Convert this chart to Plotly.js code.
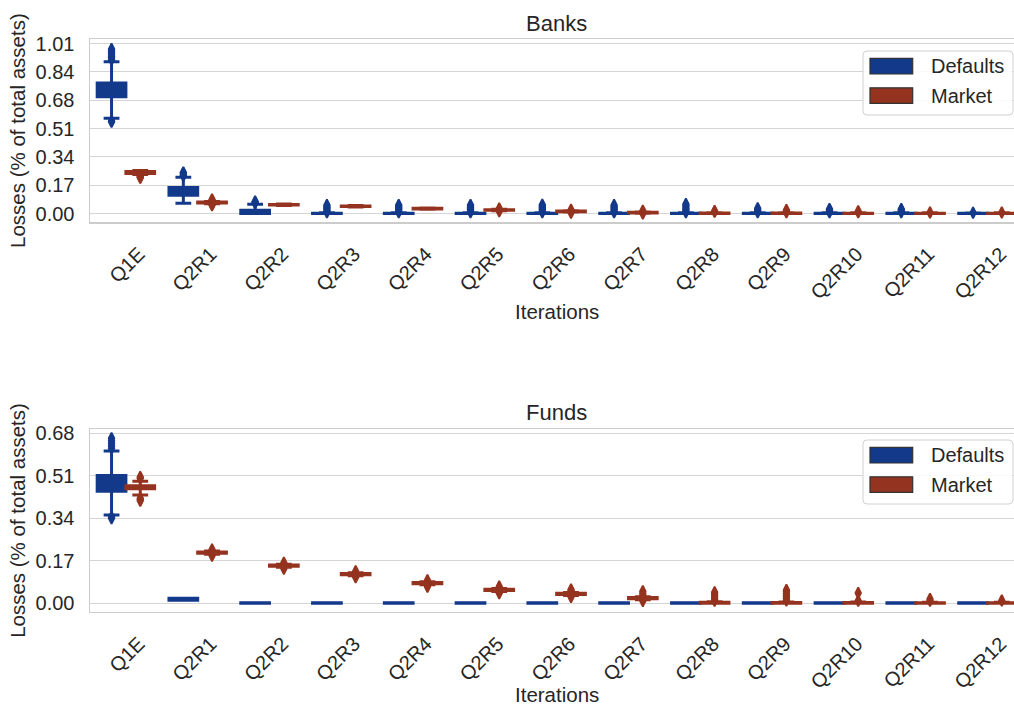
<!DOCTYPE html>
<html><head><meta charset="utf-8">
<script src="https://cdn.plot.ly/plotly-3.0.1.min.js"></script>
<style>html,body{margin:0;padding:0;background:#fff;overflow:hidden}#chart{width:1014px;height:707px}</style>
</head><body><div id="chart"></div>
<script>
// ---------------- DATA ----------------
const categories = ['Q1E','Q2R1','Q2R2','Q2R3','Q2R4','Q2R5','Q2R6','Q2R7','Q2R8','Q2R9','Q2R10','Q2R11','Q2R12'];
const seriesNames = ['Defaults','Market'];
const panelTitles = ['Banks','Funds'];
const xTitle = 'Iterations';
const yTitle = 'Losses (% of total assets)';
const bankTickVals = [0, 0.168, 0.337, 0.505, 0.673, 0.842, 1.01];
const bankTickText = ['0.00','0.17','0.34','0.51','0.68','0.84','1.01'];
const fundTickVals = [0, 0.17, 0.34, 0.51, 0.68];
const fundTickText = ['0.00','0.17','0.34','0.51','0.68'];

// Banks - Defaults
const banksDefQ1  = [0.693, 0.108, 0.000, 0, 0, 0, 0, 0, 0, 0, 0, 0, 0];
const banksDefMed = [0.735, 0.130, 0.008, 0, 0, 0, 0, 0, 0, 0, 0, 0, 0];
const banksDefQ3  = [0.775, 0.155, 0.020, 0.002, 0.002, 0.002, 0.002, 0.002, 0.002, 0.002, 0.002, 0.002, 0.002];
const banksDefLo  = [0.566, 0.061, 0.000, 0, 0, 0, 0, 0, 0, 0, 0, 0, 0];
const banksDefHi  = [0.902, 0.215, 0.055, 0.004, 0.004, 0.004, 0.004, 0.004, 0.004, 0.004, 0.004, 0.004, 0.003];
const banksDefOut = [
  [0.915, 0.925, 0.935, 0.945, 0.955, 0.965, 0.977, 0.550, 0.545],
  [0.225, 0.232, 0.240, 0.243],
  [0.062, 0.067, 0.071],
  [0.008, 0.015, 0.022, 0.029, 0.036, 0.043, 0.050],
  [0.008, 0.015, 0.022, 0.029, 0.036, 0.043, 0.051],
  [0.008, 0.015, 0.022, 0.029, 0.036, 0.044, 0.051],
  [0.008, 0.015, 0.022, 0.030, 0.037, 0.044, 0.052],
  [0.008, 0.015, 0.022, 0.029, 0.036, 0.043, 0.050],
  [0.008, 0.015, 0.022, 0.030, 0.038, 0.047, 0.057],
  [0.008, 0.015, 0.022, 0.031],
  [0.008, 0.015, 0.021, 0.027],
  [0.008, 0.015, 0.021, 0.027],
  [0.005]
];

// Banks - Market
const banksMktQ1  = [0.238, 0.062, 0.050, 0.041, 0.027, 0.019, 0.011, 0.003, 0.000, 0.000, 0.000, 0.000, 0.000];
const banksMktMed = [0.244, 0.065, 0.052, 0.043, 0.029, 0.021, 0.013, 0.005, 0.001, 0.001, 0.001, 0.001, 0.001];
const banksMktQ3  = [0.250, 0.068, 0.054, 0.045, 0.031, 0.023, 0.015, 0.007, 0.003, 0.003, 0.002, 0.002, 0.002];
const banksMktLo  = [0.232, 0.058, 0.048, 0.039, 0.025, 0.017, 0.009, 0.001, 0.000, 0.000, 0.000, 0.000, 0.000];
const banksMktHi  = [0.255, 0.072, 0.056, 0.047, 0.033, 0.025, 0.017, 0.009, 0.005, 0.005, 0.004, 0.004, 0.004];
const banksMktOut = [
  [0.228, 0.224, 0.220, 0.216, 0.212],
  [0.078, 0.083, 0.053, 0.049],
  [], [], [],
  [0.030, 0.014],
  [0.023, 0.005],
  [0.017, 0.000],
  [0.015, 0.010],
  [0.021, 0.014, 0.008],
  [0.013, 0.008],
  [0.006],
  [0.006]
];

// Funds - Defaults
const fundsDefQ1  = [0.448, 0.012, 0, 0, 0, 0, 0, 0, 0, 0, 0, 0, 0];
const fundsDefMed = [0.480, 0.016, 0, 0, 0, 0, 0, 0, 0, 0, 0, 0, 0];
const fundsDefQ3  = [0.511, 0.020, 0.002, 0.002, 0.002, 0.002, 0.002, 0.002, 0.002, 0.002, 0.002, 0.002, 0.002];
const fundsDefLo  = [0.353, 0.012, 0, 0, 0, 0, 0, 0, 0, 0, 0, 0, 0];
const fundsDefHi  = [0.609, 0.020, 0.002, 0.002, 0.002, 0.002, 0.002, 0.002, 0.002, 0.002, 0.002, 0.002, 0.002];
const fundsDefOut = [
  [0.620, 0.630, 0.640, 0.650, 0.660, 0.345, 0.340],
  [], [], [], [], [], [], [], [], [], [], [], []
];

// Funds - Market
const fundsMktQ1  = [0.458, 0.200, 0.148, 0.114, 0.078, 0.051, 0.035, 0.018, 0.000, 0.000, 0.000, 0.000, 0.000];
const fundsMktMed = [0.464, 0.202, 0.150, 0.116, 0.080, 0.053, 0.037, 0.020, 0.002, 0.001, 0.001, 0.001, 0.001];
const fundsMktQ3  = [0.470, 0.205, 0.153, 0.119, 0.083, 0.056, 0.040, 0.023, 0.004, 0.003, 0.003, 0.002, 0.002];
const fundsMktLo  = [0.433, 0.196, 0.144, 0.110, 0.074, 0.047, 0.031, 0.014, 0.000, 0.000, 0.000, 0.000, 0.000];
const fundsMktHi  = [0.488, 0.209, 0.156, 0.122, 0.086, 0.059, 0.043, 0.026, 0.006, 0.005, 0.005, 0.004, 0.004];
const fundsMktOut = [
  [0.505, 0.500, 0.420, 0.415, 0.410],
  [0.215, 0.190],
  [0.162, 0.138],
  [0.128, 0.104],
  [0.092, 0.066],
  [0.067, 0.040],
  [0.055, 0.050, 0.025],
  [0.048, 0.040, 0.033, 0.009],
  [0.044, 0.037, 0.030, 0.022, 0.015, 0.010],
  [0.053, 0.046, 0.039, 0.032, 0.025, 0.018, 0.011],
  [0.041, 0.010],
  [0.017, 0.010],
  [0.011]
];

// ---------------- STYLE ----------------
const W = 1014, H = 707;
const BLUE = '#13398b', RED = '#94331f';
const TEXT = '#262626', GRID = '#d5d5d5', SPINE = '#cccccc';
const FONT = 'Liberation Sans, Arial, sans-serif';
const colors = [BLUE, RED];
const offsets = [-0.2, 0.2];
const X = px => px / W;
const Y = py => 1 - py / H;

function boxTrace(q1, med, q3, lo, hi, k, xa, ya) {
  const c = colors[k];
  return {
    type: 'box', name: seriesNames[k],
    x: categories.map((_, i) => i + offsets[k]),
    q1: q1, median: med, q3: q3, lowerfence: lo, upperfence: hi,
    width: 0.4, whiskerwidth: 0.55, boxpoints: false,
    fillcolor: c, line: { color: c, width: 3 },
    xaxis: xa, yaxis: ya, showlegend: false, hoverinfo: 'skip'
  };
}
function outTrace(outs, k, xa, ya) {
  const xs = [], ys = [];
  outs.forEach((arr, i) => arr.forEach(v => { xs.push(i + offsets[k]); ys.push(v); }));
  return {
    type: 'scatter', mode: 'markers', x: xs, y: ys,
    marker: { symbol: 'diamond-tall', size: 8, color: colors[k], line: { width: 1.8, color: colors[k] } },
    xaxis: xa, yaxis: ya, showlegend: false, hoverinfo: 'skip', cliponaxis: false
  };
}

const data = [
  boxTrace(banksDefQ1, banksDefMed, banksDefQ3, banksDefLo, banksDefHi, 0, 'x', 'y'),
  boxTrace(banksMktQ1, banksMktMed, banksMktQ3, banksMktLo, banksMktHi, 1, 'x', 'y'),
  outTrace(banksDefOut, 0, 'x', 'y'),
  outTrace(banksMktOut, 1, 'x', 'y'),
  boxTrace(fundsDefQ1, fundsDefMed, fundsDefQ3, fundsDefLo, fundsDefHi, 0, 'x2', 'y2'),
  boxTrace(fundsMktQ1, fundsMktMed, fundsMktQ3, fundsMktLo, fundsMktHi, 1, 'x2', 'y2'),
  outTrace(fundsDefOut, 0, 'x2', 'y2'),
  outTrace(fundsMktOut, 1, 'x2', 'y2')
];

function xAxis(anchor) {
  return {
    domain: [X(90), 1], range: [-0.5, 12.37], anchor: anchor,
    tickvals: categories.map((_, i) => i), ticktext: categories,
    tickangle: -45, tickfont: { family: FONT, size: 20, color: TEXT },
    ticks: '', ticklabelstandoff: 11, ticklabelshift: 13,
    showgrid: false, zeroline: false,
    showline: true, mirror: true, linecolor: SPINE, linewidth: 1.5,
    fixedrange: true
  };
}
function yAxis(anchor, dom, rng, tv, tt) {
  return {
    domain: dom, range: rng, anchor: anchor,
    tickvals: tv, ticktext: tt,
    tickfont: { family: FONT, size: 20, color: TEXT },
    ticks: '', ticklabelstandoff: 10,
    showgrid: true, gridcolor: GRID, gridwidth: 1.3, zeroline: false,
    showline: true, linecolor: SPINE, linewidth: 1.5,
    title: { text: yTitle, font: { family: FONT, size: 20.5, color: TEXT }, standoff: 4 },
    fixedrange: true
  };
}

function roundRect(x0, y0, x1, y1, r) {
  const a = X(x0), b = X(x1), rx = r / W, ry = r / H;
  const t = Y(y0), u = Y(y1);
  return `M${a + rx},${t} L${b - rx},${t} Q${b},${t} ${b},${t - ry} L${b},${u + ry} Q${b},${u} ${b - rx},${u} L${a + rx},${u} Q${a},${u} ${a},${u + ry} L${a},${t - ry} Q${a},${t} ${a + rx},${t} Z`;
}

const shapes = [], annotations = [];
const xTitleY = [311, 694];
[0, 389].forEach((dy, p) => {
  shapes.push({ type: 'path', xref: 'paper', yref: 'paper', path: roundRect(863, 51 + dy, 1013, 115 + dy, 4),
    fillcolor: 'rgba(255,255,255,0.85)', line: { color: '#d0d0d0', width: 1 } });
  seriesNames.forEach((nm, k) => {
    const yc = 66.2 + dy + k * 29.4;
    shapes.push({ type: 'rect', xref: 'paper', yref: 'paper', x0: X(870), x1: X(912.7), y0: Y(yc - 7.8), y1: Y(yc + 7.8),
      fillcolor: colors[k], line: { color: '#333333', width: 1.2 } });
    annotations.push({ xref: 'paper', yref: 'paper', x: X(929), y: Y(yc), xanchor: 'left', yanchor: 'middle',
      text: nm, showarrow: false, font: { family: FONT, size: 20, color: TEXT } });
  });
  // panel title
  annotations.push({ xref: p ? 'x2' : 'x', yref: 'paper', x: 6, y: Y(23 + dy), yanchor: 'middle', xanchor: 'center',
    text: panelTitles[p], showarrow: false, font: { family: FONT, size: 22, color: TEXT } });
  // x-axis title
  annotations.push({ xref: p ? 'x2' : 'x', yref: 'paper', x: 6, y: Y(xTitleY[p]), yanchor: 'middle', xanchor: 'center',
    text: xTitle, showarrow: false, font: { family: FONT, size: 20.5, color: TEXT } });
});

const layout = {
  width: W, height: H,
  margin: { l: 0, r: 0, t: 0, b: 0 },
  paper_bgcolor: '#ffffff', plot_bgcolor: '#ffffff',
  showlegend: false,
  font: { family: FONT, color: TEXT },
  xaxis: xAxis('y'),
  yaxis: yAxis('x', [Y(222), Y(39.3)], [-0.0505, 1.035], bankTickVals, bankTickText),
  xaxis2: xAxis('y2'),
  yaxis2: yAxis('x2', [Y(611.7), Y(429.3)], [-0.034, 0.696], fundTickVals, fundTickText),
  shapes: shapes, annotations: annotations
};

Plotly.newPlot('chart', data, layout, { displayModeBar: false, staticPlot: true });
</script></body></html>
